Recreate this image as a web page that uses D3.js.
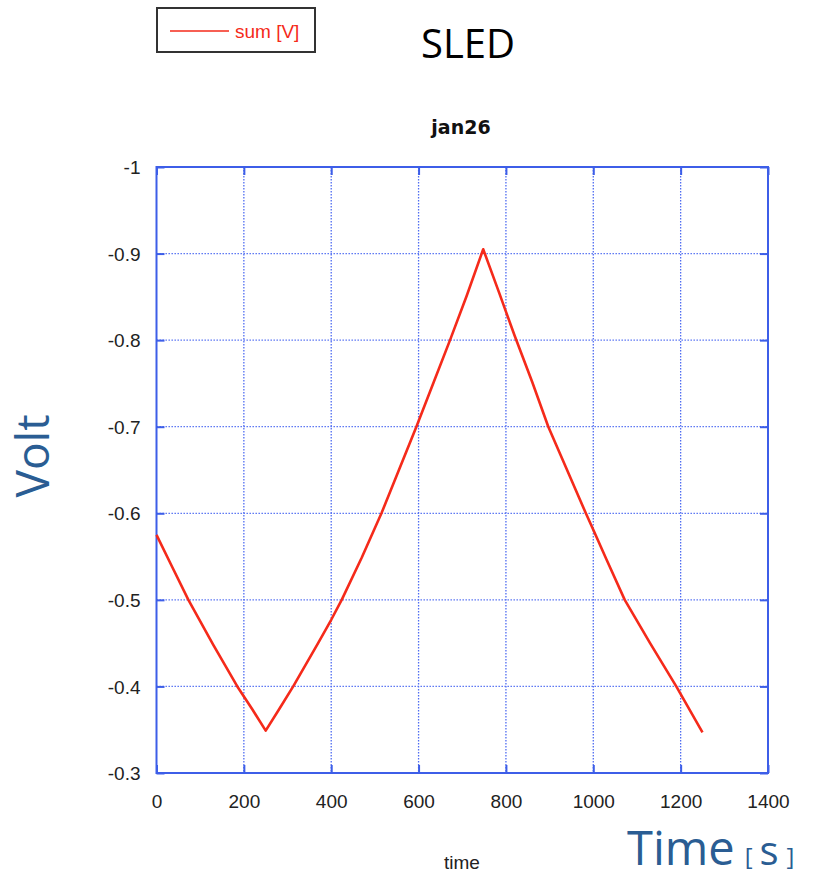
<!DOCTYPE html>
<html>
<head>
<meta charset="utf-8">
<script src="https://cdn.jsdelivr.net/npm/d3@7"></script>
<style>
  html, body { margin: 0; padding: 0; background: #fff; }
  svg { display: block; }
</style>
</head>
<body>
<svg id="chart" width="813" height="878"></svg>
<script>
// Measured SLED sum signal over one sweep
const timeS = [0, 36, 73, 130, 185, 220, 250, 280, 313, 370, 400, 424, 470, 515, 555, 595,
               635, 672, 710, 748, 785, 800, 820, 860, 897, 940, 983, 1000, 1030, 1072, 1130, 1190, 1250];
const sumV  = [-0.575, -0.538, -0.500, -0.448, -0.400, -0.373, -0.349, -0.373, -0.400, -0.450, -0.477,
               -0.500, -0.549, -0.600, -0.650, -0.700, -0.752, -0.800, -0.851, -0.905, -0.854, -0.833,
               -0.805, -0.752, -0.700, -0.650, -0.600, -0.581, -0.547, -0.500, -0.450, -0.400, -0.347];
const xTicks = [0, 200, 400, 600, 800, 1000, 1200, 1400];
const yTicks = [-1, -0.9, -0.8, -0.7, -0.6, -0.5, -0.4, -0.3];
const yTickLabels = ["-1", "-0.9", "-0.8", "-0.7", "-0.6", "-0.5", "-0.4", "-0.3"];
const seriesName = "sum [V]";
const plotTitle = "jan26";

const svg = d3.select("#chart");
const plot = { left: 156.5, right: 768, top: 167, bottom: 773 };

const x = d3.scaleLinear().domain([0, 1400]).range([plot.left, plot.right]);
const y = d3.scaleLinear().domain([-1, -0.3]).range([plot.top, plot.bottom]);

const axisBlue = "#3d5ee8";
const gridBlue = "#4f6cf2";
const red = "#f52a1a";
const labelBlue = "#2a5d93";
const tickFont = "'Liberation Sans', Arial, sans-serif";

// dotted grid
const grid = svg.append("g");
grid.selectAll("line.gx").data(xTicks.slice(1, -1)).enter().append("line")
  .attr("x1", d => x(d)).attr("x2", d => x(d))
  .attr("y1", plot.top).attr("y2", plot.bottom)
  .attr("stroke", gridBlue).attr("stroke-width", 1.3).attr("stroke-dasharray", "1.4,1.6");
grid.selectAll("line.gy").data(yTicks.slice(1, -1)).enter().append("line")
  .attr("x1", plot.left).attr("x2", plot.right)
  .attr("y1", d => y(d)).attr("y2", d => y(d))
  .attr("stroke", gridBlue).attr("stroke-width", 1.3).attr("stroke-dasharray", "1.4,1.6");

// axes with inward ticks on all four sides
const tickLen = 8;
const mkAxis = (gen, tx, ty) => {
  const g = svg.append("g").attr("transform", `translate(${tx},${ty})`).call(gen);
  g.select(".domain").remove();
  g.selectAll("line").attr("stroke", axisBlue).attr("stroke-width", 2);
  return g;
};
const bottomAx = mkAxis(d3.axisBottom(x).tickValues(xTicks).tickSize(-tickLen).tickFormat(d3.format("d")), 0, plot.bottom);
bottomAx.selectAll("text").attr("font-family", tickFont).attr("font-size", 19).attr("fill", "#222")
  .attr("dy", 0).attr("y", 35);
mkAxis(d3.axisTop(x).tickValues(xTicks).tickSize(-tickLen).tickFormat(""), 0, plot.top);
const leftAx = mkAxis(d3.axisLeft(y).tickValues(yTicks).tickSize(-tickLen).tickFormat((d, i) => yTickLabels[i]), plot.left, 0);
leftAx.selectAll("text").attr("font-family", tickFont).attr("font-size", 19).attr("fill", "#222")
  .attr("x", -16).attr("dy", "0.35em");
mkAxis(d3.axisRight(y).tickValues(yTicks).tickSize(-tickLen).tickFormat(""), plot.right, 0);

// frame
svg.append("rect")
  .attr("x", plot.left).attr("y", plot.top)
  .attr("width", plot.right - plot.left).attr("height", plot.bottom - plot.top)
  .attr("fill", "none").attr("stroke", axisBlue).attr("stroke-width", 2);

// signal trace
const line = d3.line().x((d, i) => x(timeS[i])).y(d => y(d));
svg.append("path").datum(sumV)
  .attr("d", line).attr("fill", "none")
  .attr("stroke", red).attr("stroke-width", 2.6).attr("stroke-linejoin", "round");

// plot title and x label
svg.append("text").attr("x", 461).attr("y", 134).attr("text-anchor", "middle")
  .attr("font-family", "'DejaVu Sans', sans-serif").attr("font-weight", "bold")
  .attr("font-size", 19).attr("fill", "#111").text(plotTitle);
svg.append("text").attr("x", 462).attr("y", 869).attr("text-anchor", "middle")
  .attr("font-family", tickFont).attr("font-size", 19).attr("fill", "#222").text("time");

// legend
const lg = svg.append("g");
lg.append("rect").attr("x", 157).attr("y", 8).attr("width", 158).attr("height", 44)
  .attr("fill", "#fff").attr("stroke", "#333").attr("stroke-width", 2);
lg.append("line").attr("x1", 170).attr("x2", 229).attr("y1", 31).attr("y2", 31)
  .attr("stroke", red).attr("stroke-width", 1.5);
lg.append("text").attr("x", 235).attr("y", 38)
  .attr("font-family", tickFont).attr("font-size", 19).attr("fill", red).text(seriesName);

// headline and outer labels
svg.append("text").attr("x", 468).attr("y", 58).attr("text-anchor", "middle")
  .attr("font-family", "'Open Sans', sans-serif").attr("font-size", 40).attr("fill", "#000").text("SLED");

svg.append("text")
  .attr("transform", "translate(49,456) rotate(-90)")
  .attr("text-anchor", "middle")
  .attr("font-family", "'Open Sans', sans-serif").attr("font-size", 46).attr("fill", labelBlue).text("Volt");

const tl = svg.append("text").attr("x", 627).attr("y", 865)
  .attr("font-family", "'Open Sans', sans-serif").attr("fill", labelBlue);
tl.append("tspan").attr("font-size", 47).text("Time");
tl.append("tspan").attr("font-size", 24).attr("dx", 10).text("[");
tl.append("tspan").attr("font-size", 40).attr("dx", 7).text("s");
tl.append("tspan").attr("font-size", 24).attr("dx", 8).text("]");
</script>
</body>
</html>
